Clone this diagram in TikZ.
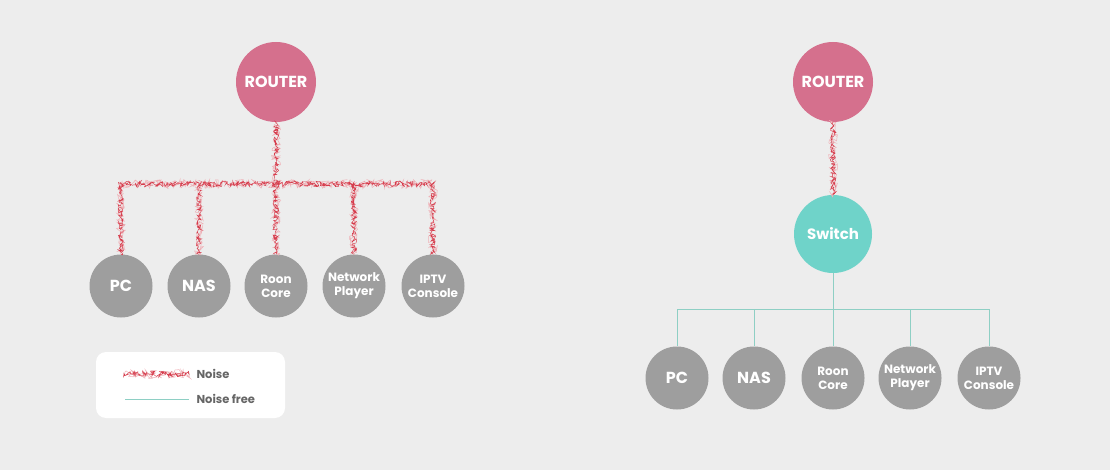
\documentclass[tikz,border=0pt]{standalone}
\usepackage{fontspec}
\setmainfont{Poppins}[UprightFont=*-Regular,BoldFont=*-Bold]
\usetikzlibrary{decorations.pathmorphing}
\definecolor{bg}{HTML}{EDEDED}
\definecolor{routerc}{HTML}{D5708D}
\definecolor{devc}{HTML}{9E9E9E}
\definecolor{switchc}{HTML}{6FD3C9}
\definecolor{cleanc}{HTML}{8ECFC4}
\definecolor{noisec}{HTML}{D63C4C}
\definecolor{legtext}{HTML}{666666}
\tikzset{
  router/.style={circle,fill=routerc,minimum size=80pt,inner sep=0pt,text=white,font=\bfseries\fontsize{16}{18}\selectfont},
  device/.style={circle,fill=devc,minimum size=63pt,inner sep=0pt,text=white,align=center,font=\bfseries\fontsize{16}{18}\selectfont},
  devsmall/.style={device,font=\bfseries\fontsize{12}{14}\selectfont},
  switchnode/.style={circle,fill=switchc,minimum size=78pt,inner sep=0pt,text=white,font=\bfseries\fontsize{15}{17}\selectfont},
  noisefree/.style={draw=cleanc,line width=0.9pt},
  noise/.style={draw=noisec,line width=0.45pt,decorate,decoration={random steps,segment length=0.8pt,amplitude=2.8pt}},
  noiselight/.style={draw=noisec!40,line width=0.5pt,decorate,decoration={random steps,segment length=1pt,amplitude=4.5pt}},
  legendlabel/.style={anchor=west,text=legtext,font=\bfseries\fontsize{11.5}{13}\selectfont}
}
\begin{document}
\begin{tikzpicture}[x=1pt,y=-1pt]
\pgfmathsetseed{7}
\fill[bg] (0,0) rectangle (1110,470);
\useasboundingbox (0,0) rectangle (1110,470);

% ---------- left: noisy network ----------
\coordinate (jc) at (276,184);
\coordinate (j1) at (121,184);
\coordinate (j2) at (199,184);
\coordinate (j4) at (354,184);
\coordinate (j5) at (433,184);

\node[router] (rL) at (276,82) {ROUTER};
\node[device] (pcL) at (121,286) {PC};
\node[device] (nasL) at (199,286) {NAS};
\node[devsmall] (roonL) at (276,286) {Roon\\Core};
\node[devsmall] (netL) at (354,286) {Network\\Player};
\node[devsmall] (iptvL) at (433,286) {IPTV\\Console};

\foreach \s in {noiselight,noise}{
  \draw[\s] (rL.south) -- (jc);
  \draw[\s] (j1) -- (j5);
  \draw[\s] (j1) -- (pcL.north);
  \draw[\s] (j2) -- (nasL.north);
  \draw[\s] (jc) -- (roonL.north);
  \draw[\s] (j4) -- (netL.north);
  \draw[\s] (j5) -- (iptvL.north);
}

% legend
\fill[white,rounded corners=10pt] (96,352) rectangle (285,418);
\coordinate (la) at (125,374);
\coordinate (lb) at (189,374);
\coordinate (lc) at (125,399);
\coordinate (ld) at (189,399);
\draw[noiselight] (la) -- (lb);
\draw[noise] (la) -- (lb);
\draw[noisefree] (lc) -- (ld);
\node[legendlabel] (lnoise) at (193,374) {Noise};
\node[legendlabel] (lfree) at (193,399) {Noise free};

% ---------- right: switched network ----------
\node[router] (rR) at (833,82) {ROUTER};
\node[switchnode] (sw) at (833,234) {Switch};
\coordinate (k1) at (677,309);
\coordinate (k2) at (754,309);
\coordinate (kc) at (833,309);
\coordinate (k4) at (910,309);
\coordinate (k5) at (989,309);
\node[device] (pcR) at (677,378) {PC};
\node[device] (nasR) at (754,378) {NAS};
\node[devsmall] (roonR) at (833,378) {Roon\\Core};
\node[devsmall] (netR) at (910,378) {Network\\Player};
\node[devsmall] (iptvR) at (989,378) {IPTV\\Console};

\draw[noiselight] (rR.south) -- (sw.north);
\draw[noise] (rR.south) -- (sw.north);
\draw[noisefree] (sw.south) -- (kc);
\draw[noisefree] (k1) -- (k5);
\draw[noisefree] (k1) -- (pcR.north);
\draw[noisefree] (k2) -- (nasR.north);
\draw[noisefree] (kc) -- (roonR.north);
\draw[noisefree] (k4) -- (netR.north);
\draw[noisefree] (k5) -- (iptvR.north);
\end{tikzpicture}
\end{document}
